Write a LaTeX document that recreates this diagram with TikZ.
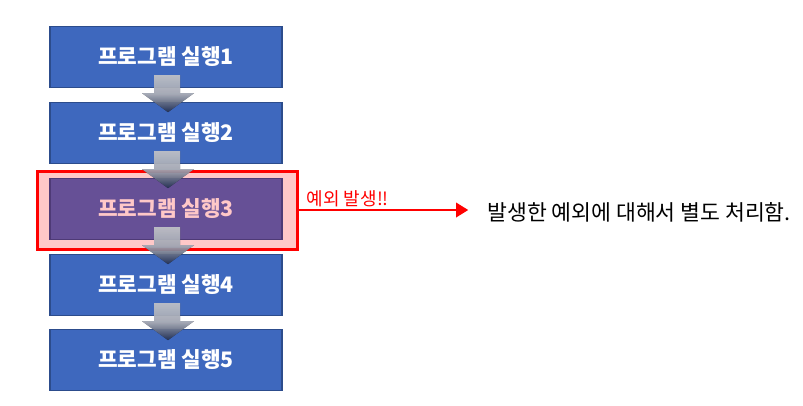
\documentclass[tikz,border=0pt]{standalone}
\usepackage{fontspec}
\setmainfont{Noto Sans CJK KR}
\usetikzlibrary{arrows.meta,positioning}
\definecolor{stepblue}{RGB}{62,104,190}
\definecolor{stepedge}{RGB}{44,76,140}
\definecolor{errpurple}{RGB}{102,80,150}
\definecolor{erredge}{RGB}{78,58,118}
\definecolor{errpink}{RGB}{255,200,200}
\definecolor{flowtop}{RGB}{240,242,248}
\definecolor{flowmid}{RGB}{200,206,222}
\definecolor{flowbot}{RGB}{40,56,98}

\begin{document}
\begin{tikzpicture}[x=0.75pt,y=-0.75pt,>=Triangle,
    stepbox/.style={draw=stepedge,line width=1pt,fill=stepblue,minimum width=174pt,
        minimum height=45.75pt,inner sep=0pt,text=white,font=\bfseries\fontsize{16}{18}\selectfont},
    errstep/.style={stepbox,draw=erredge,fill=errpurple,text=errpink},
    errframe/.style={draw=red,line width=2.25pt,fill=errpink,minimum width=195pt,minimum height=58.5pt},
    flowarrow/.style={top color=flowtop,bottom color=flowbot,middle color=flowmid,fill opacity=0.75,draw=none}]
    \useasboundingbox (0,0) rectangle (803,405);

    % Exception frame behind step 3
    \node[errframe] (exc) at (167,210) {};

    % Program steps
    \node[stepbox] (b1) at (166,57) {프로그램 실행1};
    \node[stepbox] (b2) at (166,133) {프로그램 실행2};
    \node[errstep] (b3) at (166,209) {프로그램 실행3};
    \node[stepbox] (b4) at (166,285) {프로그램 실행4};
    \node[stepbox] (b5) at (166,360) {프로그램 실행5};

    % Flow arrows between steps
    \foreach \a in {b1,b2,b3,b4}
        \fill[flowarrow,shift={(\a.south)}] (-12,-13) -- (14,-13) -- (14,5) -- (28,5)
            -- (2,24) -- (-24,5) -- (-12,5) -- cycle;

    % Exception handling
    \node[red,font=\fontsize{13.5}{15}\selectfont,inner sep=0pt,above right=2pt and 6pt of exc.east] (msg) {예외 발생!!};
    \node[anchor=west,inner sep=0pt,font=\fontsize{16.2}{18}\selectfont] (res) at (487,212) {발생한 예외에 대해서 별도 처리함.};
    \draw[->,red,line width=2.2pt,shorten >=14pt] (exc.east) -- (exc.east -| res.west);
\end{tikzpicture}
\end{document}
